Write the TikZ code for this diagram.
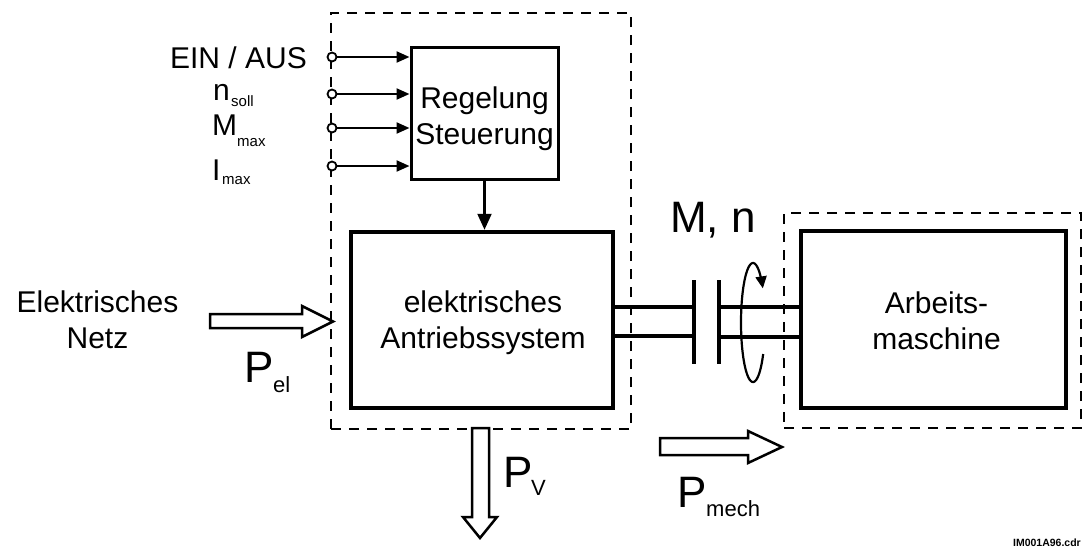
\documentclass[tikz,border=0pt]{standalone}
\usepackage{fontspec}
\setmainfont{Liberation Sans}
\usetikzlibrary{arrows.meta}
\newcommand{\fsz}[2]{\fontsize{#1}{#2}\selectfont}
\begin{document}
\begin{tikzpicture}[x=1pt,y=-1pt,
  dbox/.style={draw, dash pattern=on 10pt off 8pt, line width=2.6pt, inner sep=0pt},
  blk/.style={draw, line width=4.5pt, inner sep=0pt},
  btxt/.style={align=center, font=\fsz{30}{36}, inner sep=0pt},
  sig/.style={line width=2.2pt, -{Triangle[length=13pt,width=11pt]}},
  term/.style={circle, draw, fill=white, line width=1.8pt, minimum size=9pt, inner sep=0pt},
  lbl/.style={font=\fsz{30}{32}, inner sep=0pt, anchor=base west},
  sub/.style={font=\fsz{15}{16}, inner sep=0pt, anchor=base west},
  big/.style={font=\fsz{44}{48}, inner sep=0pt, anchor=base west},
  bigsub/.style={font=\fsz{22}{24}, inner sep=0pt, anchor=base west},
  hollow/.style={draw, line width=2.5pt, line join=miter, fill=white},
  shaft/.style={line width=3.2pt}
]
\useasboundingbox (0,0) rectangle (1084,549);

% dashed system boundaries
\node[dbox, minimum width=300pt, minimum height=416pt] (sys) at (481,221) {};
\node[dbox, minimum width=297pt, minimum height=215pt] (load) at (932.5,320.5) {};

% blocks
\node[blk, line width=3pt, minimum width=147pt, minimum height=132pt] (reg) at (484.5,113) {};
\node[btxt] (regt) at (484.5,119) {Regelung\\Steuerung};
\node[blk, minimum width=262pt, minimum height=176pt] (eas) at (482,320) {};
\node[btxt] (east) at (483,322.4) {elektrisches\\Antriebssystem};
\node[blk, minimum width=265pt, minimum height=177pt] (am) at (933.5,319.5) {};
\node[btxt] (amt) at (936.5,320.3) {Arbeits-\\maschine};

% control inputs
\node[term] (t1) at (332,57) {};
\node[term] (t2) at (332,94) {};
\node[term] (t3) at (332,128) {};
\node[term] (t4) at (332,166) {};
\draw[sig] (t1) -- (t1 -| reg.west);
\draw[sig] (t2) -- (t2 -| reg.west);
\draw[sig] (t3) -- (t3 -| reg.west);
\draw[sig] (t4) -- (t4 -| reg.west);
\node[lbl, anchor=base east] (lein) at (307,68) {EIN / AUS};
\node[lbl] (ln) at (213,100) {n};
\node[sub] (lns) at (231,106) {soll};
\node[lbl] (lm) at (212,135) {M};
\node[sub] (lms) at (237,146) {max};
\node[lbl] (li) at (212,180) {I};
\node[sub] (lis) at (222,184) {max};

\draw[line width=2.2pt, -{Triangle[length=16pt,width=14pt]}] (reg.south) -- (reg.south |- eas.north);

% shaft and coupling
\coordinate (c1) at (694,307);
\coordinate (c2) at (719,307);
\draw[shaft] (eas.east |- c1) -- (c1);
\draw[shaft] (eas.east |- 0,336) -- (694,336);
\draw[shaft] (c2) -- (am.west |- c2);
\draw[shaft] (719,337) -- (am.west |- 0,337);
\draw[shaft] (694,280) -- (694,364);
\draw[shaft] (719,280) -- (719,364);
\draw[line width=2.2pt, -{Triangle[length=12pt,width=11pt]}]
  plot[domain=32:325, samples=80, smooth] ({753+12*cos(\x)},{322.5+59.5*sin(\x)});
\node[big, anchor=base east] (mn) at (756,232) {M, n};

% electrical input
\node[btxt] (netz) at (97.5,319.3) {Elektrisches\\Netz};
\draw[hollow] (210,314) -- (302,314) -- (302,306) -- (333,321.5) -- (302,337) -- (302,328) -- (210,328) -- cycle;
\node[big] (pel) at (244,382) {P};
\node[bigsub] (pels) at (273,392) {el};

% losses
\draw[hollow] (472,428) -- (472,517) -- (463,517) -- (480,538) -- (497,517) -- (489,517) -- (489,428) -- cycle;
\node[big] (pv) at (503,487) {P};
\node[bigsub] (pvs) at (531,495) {V};

% mechanical output
\draw[hollow] (660,438) -- (748,438) -- (748,431) -- (782,447) -- (748,463) -- (748,455) -- (660,455) -- cycle;
\node[big] (pm) at (677,507) {P};
\node[bigsub] (pms) at (706,516) {mech};

\node[font=\bfseries\fsz{10.5}{12}, inner sep=0pt, anchor=base east] (file) at (1081,546) {IM001A96.cdr};
\end{tikzpicture}
\end{document}
